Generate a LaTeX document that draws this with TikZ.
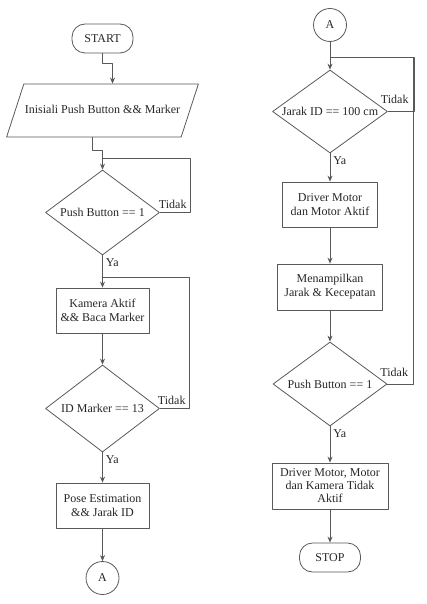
\documentclass[tikz,border=0pt]{standalone}
\usepackage{fontspec}
\setmainfont{Liberation Serif}
\usetikzlibrary{shapes.geometric,arrows.meta}
\begin{document}
\begin{tikzpicture}[x=1pt,y=-1pt,>={Stealth[length=6pt,width=5pt]},
	font=\fontsize{12}{14}\selectfont, line join=round, line width=0.8pt, color=black!65,
	every node/.style={text=black!85},
	term/.style={draw, rectangle, rounded corners=13pt, minimum width=61pt, minimum height=29pt, inner sep=0pt},
	inout/.style={draw, trapezium, trapezium left angle=72, trapezium right angle=108,
		text height=9pt, text depth=3pt, inner xsep=1pt, inner ysep=20.5pt},
	proc/.style={draw, rectangle, align=center, inner sep=0pt},
	dec/.style={draw, diamond, inner sep=0pt},
	conn/.style={draw, circle, minimum size=33pt, inner sep=0pt},
	lbl/.style={inner sep=3pt}]
	\useasboundingbox (0,0) rectangle (427,604);
	% kolom kiri
	\node[term] (start) at (102.5,38.5) {START};
	\node[inout] (init) at (102.5,110.5) {Inisiali Push Button \&\& Marker};
	\node[dec, minimum width=114pt, minimum height=85pt] (push1) at (102.5,212.5) {\makebox[0pt]{Push Button == 1}};
	\node[proc, minimum width=93pt, minimum height=45pt] (cam) at (102.5,310.5) {Kamera Aktif\\\&\& Baca Marker};
	\node[dec, minimum width=114pt, minimum height=87pt] (idm) at (102.5,408.5) {\makebox[0pt]{ID Marker == 13}};
	\node[proc, minimum width=93pt, minimum height=45pt] (pose) at (102.5,505.5) {Pose Estimation\\\&\& Jarak ID};
	\node[conn] (a1) at (102.5,578) {A};
	\coordinate (j1) at (102.5,158);
	\coordinate (j2) at (102.5,277);
	% kolom kanan
	\node[conn] (a2) at (330,25) {A};
	\node[dec, minimum width=115pt, minimum height=83pt] (dist) at (330,111.5) {\makebox[0pt]{Jarak ID == 100 cm}};
	\node[proc, minimum width=95pt, minimum height=45pt] (drv) at (330,204.5) {Driver Motor\\dan Motor Aktif};
	\node[proc, minimum width=105pt, minimum height=46pt] (disp) at (330,287) {Menampilkan\\Jarak \& Kecepatan};
	\node[dec, minimum width=114pt, minimum height=84pt] (push2) at (330,384) {\makebox[0pt]{Push Button == 1}};
	\node[proc, minimum width=116pt, minimum height=46pt, font=\fontsize{12}{13}\selectfont] (off) at (330,486) {Driver Motor, Motor\\dan Kamera Tidak\\Aktif};
	\node[term] (stop) at (330,557.5) {STOP};
	\coordinate (j3) at (330,57);
	% panah kiri
	\draw[->] (start.south) -- ++(0,10) -| ([xshift=10pt]init.north);
	\draw[->] ([xshift=-10pt]init.south) -- ++(0,13) -| (push1.north);
	\draw (push1.east) -- ++(30,0) node[lbl, above left]{Tidak} |- (j1);
	\draw[->] (push1.south) node[lbl, below right]{Ya} -- (cam.north);
	\draw[->] (cam.south) -- (idm.north);
	\draw (idm.east) -- ++(29,0) node[lbl, above left]{Tidak} |- (j2);
	\draw[->] (idm.south) node[lbl, below right]{Ya} -- (pose.north);
	\draw[->] (pose.south) -- (a1.north);
	% panah kanan
	\draw[->] (a2.south) -- (dist.north);
	\draw (dist.east) -- ++(26,0) node[lbl, above left, yshift=4pt, xshift=-2pt]{Tidak} |- (j3);
	\draw[->] (dist.south) node[lbl, below right]{Ya} -- (drv.north);
	\draw[->] (drv.south) -- (disp.north);
	\draw[->] (disp.south) -- (push2.north);
	\draw (push2.east) -- ++(26,0) node[lbl, above left, yshift=4pt, xshift=-2pt]{Tidak} |- (j3);
	\draw[->] (push2.south) node[lbl, below right]{Ya} -- (off.north);
	\draw[->] (off.south) -- (stop.north);
\end{tikzpicture}
\end{document}
